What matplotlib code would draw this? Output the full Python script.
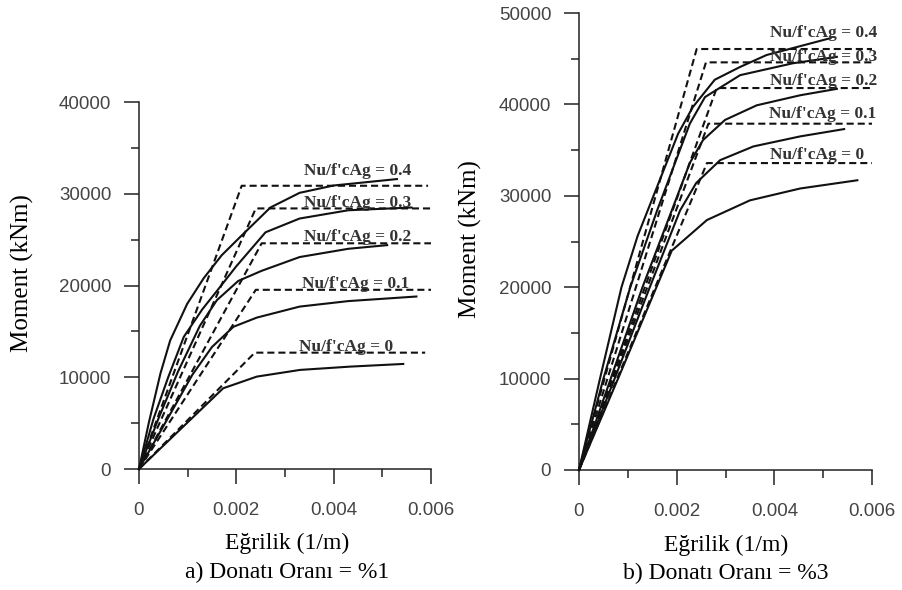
import numpy as np
import matplotlib.pyplot as plt
from matplotlib.ticker import MultipleLocator, FuncFormatter

# eksenel yük seviyeleri
nu_levels = ['0', '0.1', '0.2', '0.3', '0.4']

# a) donatı oranı %1 - moment-eğrilik eğrileri
k_a0 = [0, 0.00173, 0.00242, 0.00331, 0.00434, 0.00543]
m_a0 = [0, 8800, 10070, 10800, 11160, 11450]
k_a1 = [0, 0.0006, 0.0011, 0.0015, 0.00194, 0.00242, 0.0033, 0.0043, 0.0057]
m_a1 = [0, 5600, 10300, 13300, 15500, 16500, 17700, 18300, 18800]
k_a2 = [0, 0.0004, 0.0008, 0.00125, 0.0016, 0.00204, 0.00252, 0.0033, 0.0043, 0.0051]
m_a2 = [0, 5500, 10600, 15600, 18400, 20500, 21600, 23100, 24000, 24400]
k_a3 = [0, 0.0003, 0.0006, 0.00092, 0.0013, 0.0016, 0.002, 0.0026, 0.0033, 0.0043, 0.0056]
m_a3 = [0, 5500, 10000, 14400, 17400, 19400, 22100, 25800, 27300, 28200, 28500]
k_a4 = [0, 0.0002, 0.00044, 0.00064, 0.00099, 0.00133, 0.0017, 0.0021, 0.0027, 0.003, 0.0033, 0.004, 0.0053]
m_a4 = [0, 5000, 10400, 14000, 18000, 20800, 23300, 25400, 28500, 29300, 30100, 30900, 31600]

# iki doğrulu idealleştirme (akma noktası ve son eğrilik)
ky_a = [0.00238, 0.0024, 0.00252, 0.0024, 0.00211]
my_a = [12680, 19530, 24600, 28400, 30870]
ku_a = [0.00588, 0.006, 0.006, 0.006, 0.00594]

# b) donatı oranı %3
k_b0 = [0, 0.0008, 0.0019, 0.00262, 0.0035, 0.00453, 0.0057]
m_b0 = [0, 10000, 24000, 27350, 29500, 30800, 31700]
k_b1 = [0, 0.00073, 0.00145, 0.00207, 0.0024, 0.00289, 0.00357, 0.00453, 0.00543]
m_b1 = [0, 10000, 20000, 28400, 31400, 33900, 35400, 36500, 37300]
k_b2 = [0, 0.00065, 0.0013, 0.0019, 0.00227, 0.00254, 0.00299, 0.00364, 0.00453, 0.00528]
m_b2 = [0, 10000, 20000, 28400, 33600, 36100, 38300, 39900, 41000, 41700]
k_b3 = [0, 0.0005, 0.00105, 0.0016, 0.00227, 0.00258, 0.0033, 0.00438, 0.00528]
m_b3 = [0, 10000, 20000, 28400, 37900, 40800, 43200, 44500, 45200]
k_b4 = [0, 0.00043, 0.00087, 0.0012, 0.0016, 0.00203, 0.00233, 0.00278, 0.0033, 0.00384, 0.00515]
m_b4 = [0, 10000, 20000, 25600, 31000, 36800, 39700, 42700, 44100, 45400, 47250]

ky_b = [0.00262, 0.00265, 0.00282, 0.0026, 0.00241]
my_b = [33580, 37890, 41790, 44600, 46060]
ku_b = [0.006, 0.006, 0.006, 0.006, 0.006]

# etiket konumları
lab_x_a = [0.003294, 0.003356, 0.00339, 0.00339, 0.00339]
lab_y_a = [13290, 20110, 25250, 28990, 32430]
lab_x_b = [0.00391, 0.0039, 0.00391, 0.00391, 0.00391]
lab_y_b = [34460, 38950, 42590, 45150, 47780]

curves_a = [(k_a0, m_a0), (k_a1, m_a1), (k_a2, m_a2), (k_a3, m_a3), (k_a4, m_a4)]
curves_b = [(k_b0, m_b0), (k_b1, m_b1), (k_b2, m_b2), (k_b3, m_b3), (k_b4, m_b4)]

serif = ['Liberation Serif', 'DejaVu Serif']
sans = ['Liberation Sans', 'DejaVu Sans']
line_col = '#111111'
txt_col = '#333333'

fig = plt.figure(figsize=(9.02, 5.90), dpi=100)
ax1 = fig.add_axes([139/902, 121/590, 292/902, 367/590])
ax2 = fig.add_axes([579/902, 120/590, 293/902, 457/590])


def draw_panel(ax, curves, ky, my, ku, lx, ly, ymax):
    for i in range(len(curves)):
        k, m = curves[i]
        ax.plot(k, m, color=line_col, lw=1.5, clip_on=False, zorder=3)
        ax.plot([0, ky[i], ku[i]], [0, my[i], my[i]], color=line_col, lw=1.5,
                linestyle=(0, (3.4, 1.9)), clip_on=False, zorder=3)
        ax.text(lx[i], ly[i], f"Nu/f'cAg = {nu_levels[i]}", ha='left', va='center',
                family=serif, fontweight='bold', fontsize=12.5, color=txt_col, zorder=4)
    ax.set_xlim(0, 0.006)
    ax.set_ylim(0, ymax)
    for s in ['top', 'right']:
        ax.spines[s].set_visible(False)
    for s in ['left', 'bottom']:
        ax.spines[s].set_linewidth(1.1)
        ax.spines[s].set_color('#222222')
    ax.xaxis.set_major_locator(MultipleLocator(0.002))
    ax.xaxis.set_minor_locator(MultipleLocator(0.001))
    ax.yaxis.set_major_locator(MultipleLocator(10000))
    ax.yaxis.set_minor_locator(MultipleLocator(5000))
    ax.xaxis.set_major_formatter(FuncFormatter(lambda v, p: '%g' % round(v, 4)))
    ax.yaxis.set_major_formatter(FuncFormatter(lambda v, p: '%d' % v))
    ax.tick_params(which='major', direction='out', length=11, width=1.1, color='#222222',
                   labelsize=13.5, labelcolor='#444444', pad=9)
    ax.tick_params(which='minor', direction='out', length=5.5, width=1.1, color='#222222')
    ax.tick_params(axis='x', which='major', pad=13)
    for lab in ax.get_xticklabels() + ax.get_yticklabels():
        lab.set_family(sans)
    ax.patch.set_visible(False)


draw_panel(ax1, curves_a, ky_a, my_a, ku_a, lab_x_a, lab_y_a, 40000)
draw_panel(ax2, curves_b, ky_b, my_b, ku_b, lab_x_b, lab_y_b, 50000)

# eksen başlıkları ve alt yazılar
fig.text(22/902, 1 - 273/590, 'Moment (kNm)', rotation=90, ha='center', va='center',
         family=serif, fontsize=18, color='black')
fig.text(470/902, 1 - 239/590, 'Moment (kNm)', rotation=90, ha='center', va='center',
         family=serif, fontsize=18, color='black')
fig.text(287/902, 1 - 543/590, 'Eğrilik (1/m)', ha='center', va='center',
         family=serif, fontsize=17, color='black')
fig.text(726/902, 1 - 545/590, 'Eğrilik (1/m)', ha='center', va='center',
         family=serif, fontsize=17, color='black')
fig.text(287/902, 1 - 572/590, 'a) Donatı Oranı = %1', ha='center', va='center',
         family=serif, fontsize=17, color='black')
fig.text(726/902, 1 - 573/590, 'b) Donatı Oranı = %3', ha='center', va='center',
         family=serif, fontsize=17, color='black')

plt.savefig('out.png', dpi=100)
